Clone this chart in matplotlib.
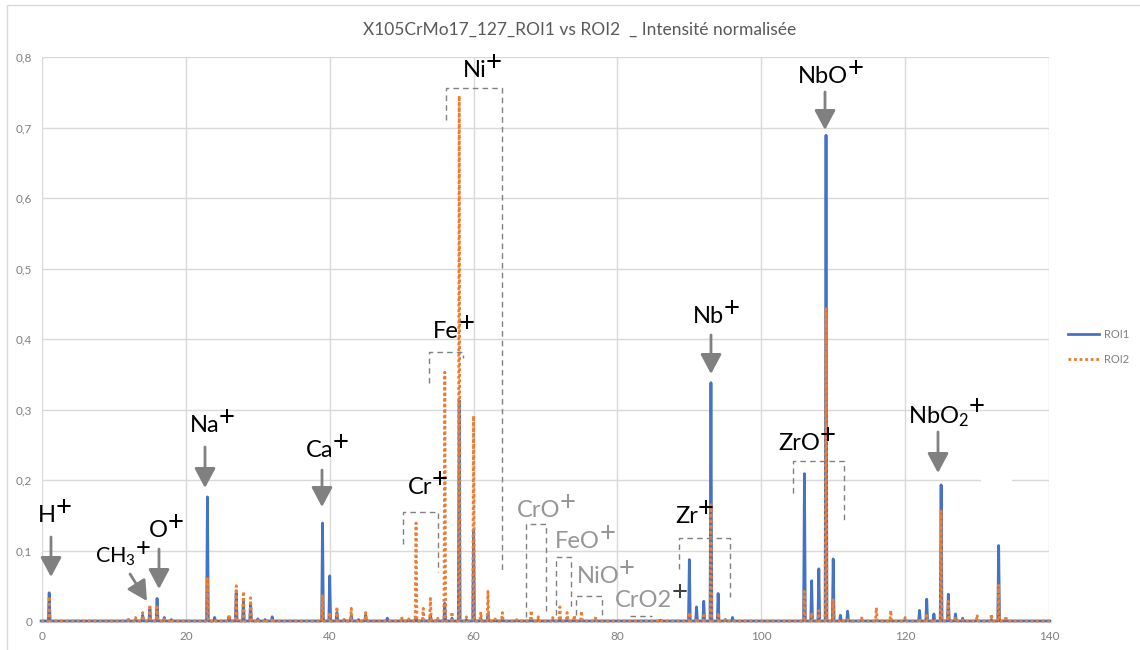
import matplotlib
matplotlib.use('Agg')
import matplotlib.pyplot as plt
import numpy as np
from matplotlib.patches import Rectangle
from matplotlib.lines import Line2D

plt.rcParams['font.family'] = ['Lato', 'DejaVu Sans']
plt.rcParams['mathtext.fontset'] = 'custom'
plt.rcParams['mathtext.rm'] = 'Lato'
plt.rcParams['mathtext.it'] = 'Lato:italic'
plt.rcParams['mathtext.bf'] = 'Lato:bold'

# ---------------- data ----------------
title = "X105CrMo17_127_ROI1 vs ROI2  _ Intensité normalisée"
series_names = ["ROI1", "ROI2"]

mass = [1, 12, 13, 14, 15, 16, 17, 18, 23, 24, 26, 27, 28, 29, 30, 31, 32,
        39, 40, 41, 42, 43, 44, 45, 48, 50, 51, 52, 53, 54, 55, 56, 57, 58,
        59, 60, 61, 62, 63, 64, 66, 68, 69, 71, 72, 73, 74, 75, 77, 86,
        90, 91, 92, 93, 94, 95, 96, 106, 107, 108, 109, 110, 111, 112, 114,
        116, 118, 120, 122, 123, 124, 125, 126, 127, 128, 130, 132, 133, 134]
roi1 = [0.040, 0.002, 0.002, 0.008, 0.017, 0.032, 0.005, 0.002, 0.176, 0.005,
        0.006, 0.040, 0.028, 0.025, 0.003, 0.002, 0.006,
        0.139, 0.064, 0.012, 0.002, 0.008, 0.002, 0.008, 0.004, 0.002, 0.002,
        0.005, 0.003, 0.008, 0.002, 0.025, 0.004, 0.313,
        0.002, 0.130, 0.004, 0.010, 0.001, 0.002, 0.001, 0.002, 0.001, 0.001,
        0.002, 0.001, 0.001, 0.001, 0.001, 0.001,
        0.087, 0.020, 0.028, 0.338, 0.039, 0.002, 0.005, 0.209, 0.057, 0.074,
        0.689, 0.088, 0.008, 0.014, 0.001,
        0.001, 0.001, 0.001, 0.015, 0.031, 0.010, 0.193, 0.038, 0.010, 0.004,
        0.001, 0.002, 0.107, 0.002]
roi2 = [0.035, 0.005, 0.005, 0.012, 0.023, 0.020, 0.003, 0.003, 0.060, 0.002,
        0.009, 0.050, 0.042, 0.033, 0.003, 0.003, 0.004,
        0.036, 0.012, 0.020, 0.002, 0.018, 0.002, 0.012, 0.001, 0.006, 0.003,
        0.139, 0.018, 0.032, 0.004, 0.353, 0.013, 0.745,
        0.006, 0.291, 0.013, 0.042, 0.003, 0.012, 0.002, 0.015, 0.006, 0.005,
        0.020, 0.012, 0.008, 0.014, 0.006, 0.002,
        0.012, 0.004, 0.008, 0.165, 0.012, 0.002, 0.001, 0.042, 0.012, 0.015,
        0.443, 0.030, 0.002, 0.002, 0.006,
        0.019, 0.015, 0.005, 0.004, 0.008, 0.003, 0.156, 0.028, 0.004, 0.002,
        0.009, 0.010, 0.051, 0.007]

x_ticks = [0, 20, 40, 60, 80, 100, 120, 140]
y_ticks = [0, 0.1, 0.2, 0.3, 0.4, 0.5, 0.6, 0.7, 0.8]
y_tick_labels = ["0", "0,1", "0,2", "0,3", "0,4", "0,5", "0,6", "0,7", "0,8"]

# ---------------- layout ----------------
BLUE = "#4472C4"
ORANGE = "#ED7D31"
GRID = "#d9d9d9"
TXT = "#7f7f7f"
LGRAY = "#969696"
ARROW = "#808080"

W, H = 1140, 650
L, R, B, T = 42, 1049, 621, 57
fig = plt.figure(figsize=(W / 100, H / 100), dpi=100)
fig.patch.set_facecolor("white")
ax = fig.add_axes([L / W, 1 - B / H, (R - L) / W, (B - T) / H])
ax.set_xlim(0, 140)
ax.set_ylim(0, 0.8)


def P(px, py):
    return ((px - L) / (R - L) * 140, (B - py) / (B - T) * 0.8)


# chart area border
fig.add_artist(Rectangle((7 / W, -0.1), 2, 1 - 5 / H + 0.1, transform=fig.transFigure,
                         fill=False, edgecolor=GRID, lw=1))

for s in ax.spines.values():
    s.set_visible(False)
ax.set_xticks(x_ticks)
ax.set_yticks(y_ticks)
ax.set_yticklabels(y_tick_labels)
ax.tick_params(length=0, colors=TXT, labelsize=8.5)
ax.tick_params(axis="y", pad=7)
ax.tick_params(axis="x", pad=7)
ax.grid(True, color=GRID, lw=1)
ax.set_axisbelow(True)

# white patch present in the original
x0, y0 = P(981, 486)
x1, y1 = P(1012, 470)
ax.add_patch(Rectangle((x0, y0), x1 - x0, y1 - y0, facecolor="white", edgecolor="none", zorder=1))

# spectra as spikes
grid = np.arange(0, 141)
v1 = np.zeros(grid.size)
v2 = np.zeros(grid.size)
v1[np.array(mass)] = roi1
v2[np.array(mass)] = roi2
xs = np.repeat(grid.astype(float), 3) + np.tile([-0.12, 0.0, 0.12], grid.size)


def spikes(v):
    y = np.zeros(xs.size)
    y[1::3] = v
    return y


ax.plot(xs, spikes(v1), color=BLUE, lw=2, zorder=2, clip_on=False)
ax.plot(xs, spikes(v2), color=ORANGE, lw=2, ls=(0, (1, 1)), zorder=3, clip_on=False)

# title
fig.text(580 / W, 1 - 30 / H, title, ha="center", va="center", fontsize=12.5, color="#595959")

# legend
handles = [Line2D([], [], color=BLUE, lw=2), Line2D([], [], color=ORANGE, lw=2, ls=(0, (1, 1)))]
fig.legend(handles, series_names, loc="center left", bbox_to_anchor=(1068 / W, 1 - 347 / H),
           frameon=False, fontsize=8, labelcolor=TXT, handlelength=2.8, handletextpad=0.4,
           labelspacing=1.2, borderaxespad=0, borderpad=0)

# annotations: text, left px, baseline px, color, plus color, size
labels = [
    ("H", 38, 522, "black", "black", 17),
    (r"CH$_3$", 95, 563, "black", "black", 15.5),
    ("O", 149, 537, "black", "black", 17),
    ("Na", 190, 432, "black", "black", 17),
    ("Ca", 306, 457, "black", "black", 17),
    ("Cr", 408, 494, "black", "black", 17),
    ("Fe", 433, 338, "black", "black", 17),
    ("Ni", 463, 77, "black", "black", 17),
    ("CrO", 517, 517, LGRAY, LGRAY, 17),
    ("FeO", 555, 548, LGRAY, LGRAY, 17),
    ("NiO", 577, 583, LGRAY, LGRAY, 17),
    ("CrO2", 615, 607, LGRAY, "#404040", 17),
    ("Zr", 675, 523, "black", "black", 17),
    ("Nb", 693, 323, "black", "black", 17),
    ("NbO", 798, 83, "black", "black", 17),
    ("ZrO", 778, 450, "black", "black", 17),
    (r"NbO$_2$", 908, 423, "black", "black", 17),
]
for txt, px, py, col, pcol, fs in labels:
    x, y = P(px, py)
    t = ax.text(x, y, txt, ha="left", va="baseline", fontsize=fs, color=col, zorder=5)
    ax.annotate("+", xy=(1, 1), xycoords=t, xytext=(-0.5, -2), textcoords="offset points",
                ha="left", va="center", fontsize=fs + 3, color=pcol, zorder=5)

# arrows: start px, tip px
arrows = [
    ((51, 537), (51, 577)),
    ((130, 574), (147, 601)),
    ((159, 549), (159, 589)),
    ((205, 447), (205, 488)),
    ((322, 470), (322, 507)),
    ((711, 335), (711, 374)),
    ((825, 92), (825, 130)),
    ((938, 432), (938, 473)),
]
for (sx, sy), (ex, ey) in arrows:
    ax.annotate("", xy=P(ex, ey), xytext=P(sx, sy),
                arrowprops=dict(arrowstyle="-|>,head_length=0.6,head_width=0.32",
                                mutation_scale=20, color=ARROW, lw=2,
                                shrinkA=0, shrinkB=0), zorder=5)

# dashed brackets: left x, right x, top y, left bottom y, right bottom y (px)
brackets = [
    (403, 438, 512, 544, 572),
    (429, 463, 352, 383, 358),
    (446, 502, 88, 120, 570),
    (526, 546, 524, 617, 613),
    (556, 571, 557, 615, 607),
    (576, 602, 596, 615, 615),
    (679, 730, 538, 569, 597),
    (793, 844, 461, 493, 520),
]
for lx, rx, ty, lb, rb in brackets:
    pts = [P(lx, lb), P(lx, ty), P(rx, ty), P(rx, rb)]
    ax.plot([p[0] for p in pts], [p[1] for p in pts], color="#808080", lw=1,
            ls=(0, (4, 3)), zorder=4)
# flat bracket under CrO2+
a, b = P(630, 616), P(652, 616)
ax.plot([a[0], b[0]], [a[1], b[1]], color="#808080", lw=1, ls=(0, (4, 3)), zorder=4)

fig.savefig("out.png", dpi=100)
